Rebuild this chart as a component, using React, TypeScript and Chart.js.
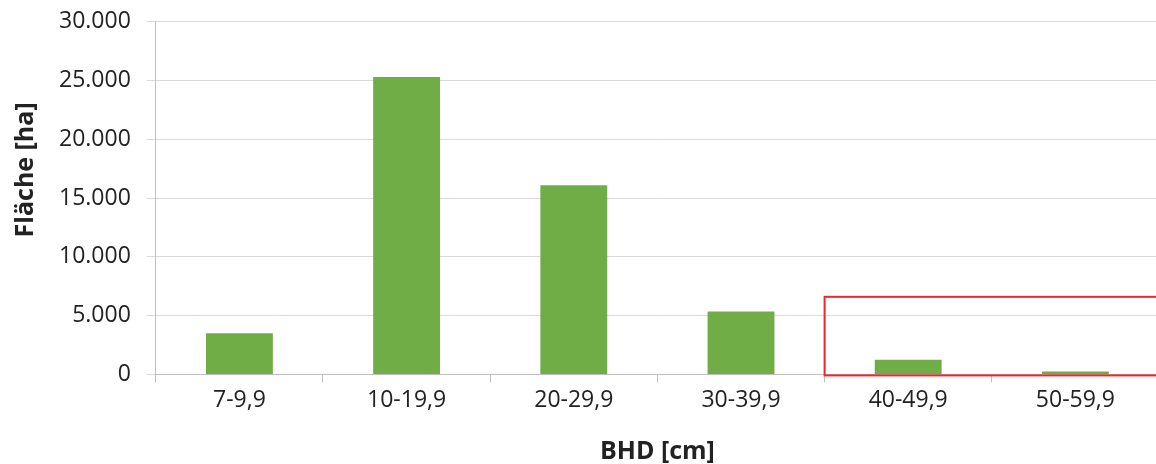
import React, { useEffect, useRef } from "react";
import { Chart, registerables } from "chart.js";

Chart.register(...registerables);

const categories = ["7-9,9", "10-19,9", "20-29,9", "30-39,9", "40-49,9", "50-59,9"];
const areaValues = [3500, 25300, 16100, 5350, 1250, 250];
const yTicks = [0, 5000, 10000, 15000, 20000, 25000, 30000];
const highlightFromIndex = 4;
const highlightTopValue = 6600;
const yAxisTitle = "Fläche [ha]";
const xAxisTitle = "BHD [cm]";

const FONT = "'Open Sans', sans-serif";

const highlightPlugin = {
  id: "highlightBox",
  afterDatasetsDraw(chart: any) {
    const x = chart.scales.x;
    const y = chart.scales.y;
    const ctx = chart.ctx;
    const left = (x.getPixelForValue(highlightFromIndex - 1) + x.getPixelForValue(highlightFromIndex)) / 2;
    const right = chart.width + 10;
    const top = y.getPixelForValue(highlightTopValue);
    const bottom = y.getPixelForValue(0) + 1;
    ctx.save();
    ctx.strokeStyle = "#f0262b";
    ctx.lineWidth = 2;
    ctx.strokeRect(left, top, right - left, bottom - top);
    ctx.restore();
  },
};

const yTitlePlugin = {
  id: "yTitle",
  afterDraw(chart: any) {
    const ctx = chart.ctx;
    const area = chart.chartArea;
    const cy = area.top + (area.bottom - area.top) * 0.42;
    ctx.save();
    ctx.translate(26, cy);
    ctx.rotate(-Math.PI / 2);
    ctx.font = `bold 25px ${FONT}`;
    ctx.fillStyle = "#222222";
    ctx.textAlign = "center";
    ctx.textBaseline = "middle";
    ctx.fillText(yAxisTitle, 0, 0);
    ctx.restore();
  },
};

export default function App() {
  const ref = useRef<HTMLCanvasElement>(null);
  useEffect(() => {
    if (!ref.current) return;
    const chart = new Chart(ref.current, {
      type: "bar",
      data: {
        labels: categories,
        datasets: [
          {
            data: areaValues,
            backgroundColor: "#70ad47",
            barPercentage: 0.4,
            categoryPercentage: 1,
          },
        ],
      },
      options: {
        animation: false,
        responsive: false,
        maintainAspectRatio: false,
        layout: { padding: { top: 0, right: 11, left: 43, bottom: 0 } },
        plugins: { legend: { display: false }, tooltip: { enabled: false } },
        scales: {
          x: {
            offset: true,
            grid: {
              offset: true,
              drawOnChartArea: false,
              drawTicks: true,
              tickLength: 8,
              color: "#bfbfbf",
            },
            border: { color: "#bfbfbf", width: 1 },
            ticks: { color: "#222222", font: { family: FONT, size: 23 }, padding: 4, maxRotation: 0 },
            title: {
              display: true,
              text: xAxisTitle,
              color: "#222222",
              font: { family: FONT, size: 25, weight: "bold", lineHeight: 1 },
              padding: { top: 21, bottom: 0 },
            },
          },
          y: {
            min: 0,
            max: 30000,
            afterBuildTicks(scale: any) {
              scale.ticks = yTicks.map((v) => ({ value: v }));
            },
            grid: { color: "#d9d9d9", tickLength: 9, drawTicks: true },
            border: { color: "#bfbfbf", width: 1 },
            ticks: {
              color: "#222222",
              font: { family: FONT, size: 23, lineHeight: 0.5 },
              padding: 16,
              callback: (v: any) => Number(v).toLocaleString("de-DE"),
            },
            title: { display: false },
          },
        },
      },
      plugins: [highlightPlugin, yTitlePlugin],
    });
    return () => chart.destroy();
  }, []);
  return (
    <div style={{ position: "fixed", left: 0, top: 0, width: 1156, height: 464, overflow: "hidden", background: "#fff" }}>
      <canvas ref={ref} width={1170} height={464} style={{ display: "block" }} />
    </div>
  );
}
